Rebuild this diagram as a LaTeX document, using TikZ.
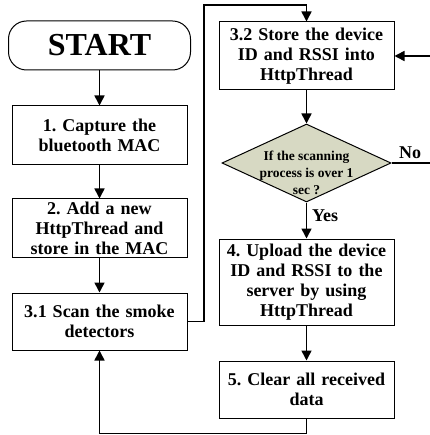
\documentclass[tikz,border=0pt]{standalone}
\usepackage{fontspec}
\setmainfont{Liberation Serif}
\usetikzlibrary{arrows.meta,shapes.geometric}
\definecolor{diafill}{RGB}{215,217,195}
\frenchspacing
\begin{document}
\begin{tikzpicture}[x=1pt,y=-1pt,
  stepbox/.style={draw, line width=1pt, align=center, inner sep=0pt,
    minimum width=175pt, text width=170pt,
    font=\bfseries\fontsize{18}{20}\selectfont},
  conn/.style={line width=1.6pt, -{Triangle[width=10pt,length=10pt]}},
  lbl/.style={font=\bfseries\fontsize{18}{20}\selectfont, inner sep=0pt}]
\useasboundingbox (0,0) rectangle (429,435);
\node[draw, line width=1pt, rounded corners=18pt, minimum width=182pt, minimum height=49pt,
  inner sep=0pt, font=\bfseries\fontsize{32}{34}\selectfont] (start) at (99.5,45.5) {START};
\node[stepbox, minimum height=59pt] (b1) at (99.5,135.5) {1. Capture the\\bluetooth MAC};
\node[stepbox, minimum height=58pt] (b2) at (99.5,228) {2. Add a new\\HttpThread and\\store in the MAC};
\node[stepbox, minimum height=57pt] (b31) at (99.5,321.5) {3.1 Scan the smoke\\detectors};
\node[stepbox, minimum height=68pt] (b32) at (306.5,56) {3.2 Store the device\\ID and RSSI into\\HttpThread};
\node[draw, line width=1pt, fill=diafill, diamond, minimum width=169pt, minimum height=78pt,
  inner sep=0pt] (dia) at (306.5,163) {};
\node[align=center, inner sep=0pt, font=\bfseries\fontsize{13.5}{17}\selectfont] (dtext) at (306.5,173)
  {If the scanning\\process is over 1\\sec ?};
\node[stepbox, minimum height=86pt] (b4) at (306.5,282) {4. Upload the device\\ID and RSSI to the\\server by using\\HttpThread};
\node[stepbox, minimum height=57pt] (b5) at (306.5,389.5) {5. Clear all received\\data};
\node[lbl] (yes) at (325,216) {Yes};
\node[lbl] (no) at (410,153) {No};
\coordinate (top) at (204,5);
\coordinate (noc) at (445,163);
\draw[conn] (start) -- (b1);
\draw[conn] (b1) -- (b2);
\draw[conn] (b2) -- (b31);
\draw[conn] (b31.east) -| (top) -| (b32.north);
\draw[conn] (b32) -- (dia);
\draw[conn] (dia) -- (b4);
\draw[conn] (dia.east) -- (noc) |- (b32.east);
\draw[conn] (b4) -- (b5);
\draw[conn] (b5.south) -- ++(0,15) -| (b31.south);
\end{tikzpicture}
\end{document}
